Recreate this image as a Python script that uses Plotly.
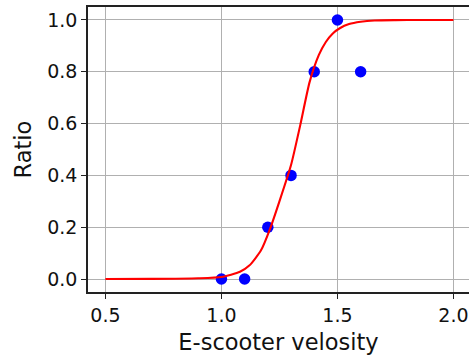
import plotly.graph_objects as go

# Observed data points
velocity = [1.0, 1.1, 1.2, 1.3, 1.4, 1.5, 1.6]
ratio = [0.0, 0.0, 0.2, 0.4, 0.8, 1.0, 0.8]

# Fitted curve
curve_x = [0.5, 0.7, 0.9, 1.0, 1.08, 1.12, 1.17, 1.21, 1.25, 1.30, 1.34, 1.38,
           1.42, 1.45, 1.48, 1.51, 1.55, 1.60, 1.66, 1.75, 1.85, 2.0]
curve_y = [0.0, 0.0005, 0.003, 0.008, 0.028, 0.052, 0.11, 0.195, 0.30, 0.44, 0.595, 0.76,
           0.865, 0.915, 0.948, 0.968, 0.984, 0.993, 0.998, 0.9995, 1.0, 1.0]

x_ticks = [0.5, 1.0, 1.5, 2.0]
y_ticks = [0.0, 0.2, 0.4, 0.6, 0.8, 1.0]

FONT = "DejaVu Sans"

fig = go.Figure()
fig.add_trace(go.Scatter(x=velocity, y=ratio, mode="markers",
                         marker=dict(color="#0000ff", size=11.5, line=dict(width=0)),
                         showlegend=False))
fig.add_trace(go.Scatter(x=curve_x, y=curve_y, mode="lines",
                         line=dict(color="#ff0000", width=2.1, shape="spline", smoothing=0.6),
                         showlegend=False))

axis_common = dict(
    showgrid=True, gridcolor="#b0b0b0", gridwidth=1.3,
    showline=True, linecolor="#222222", linewidth=1.5,
    ticks="outside", ticklen=5, tickwidth=1.4, tickcolor="#222222",
    tickfont=dict(family=FONT, size=19, color="#111111"),
    zeroline=False,
)

fig.update_layout(
    width=469, height=361,
    margin=dict(l=88, r=0, t=7, b=69),
    paper_bgcolor="white", plot_bgcolor="white",
    xaxis=dict(range=[0.425, 2.067], tickvals=x_ticks, ticktext=[f"{v:.1f}" for v in x_ticks],
               mirror=True,
               title=dict(text="E-scooter velosity", font=dict(family=FONT, size=22.5, color="#111111"),
                          standoff=10),
               **axis_common),
    yaxis=dict(range=[-0.05, 1.05], tickvals=y_ticks, ticktext=[f"{v:.1f}" for v in y_ticks],
               mirror=False,
               title=dict(text="Ratio", font=dict(family=FONT, size=22.5, color="#111111"),
                          standoff=9),
               **axis_common),
)

fig.write_html("out.html")
